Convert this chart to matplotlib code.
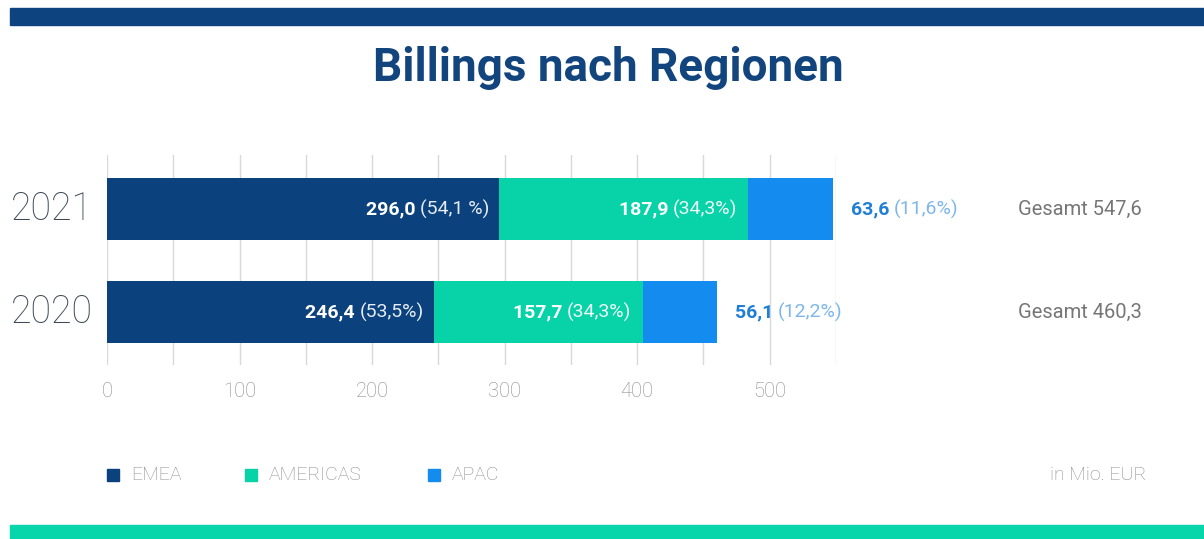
import matplotlib
matplotlib.use("Agg")
import matplotlib.pyplot as plt
from matplotlib.patches import Rectangle

plt.rcParams['font.family'] = ['Roboto', 'DejaVu Sans']

years = ["2021", "2020"]
regions = ["EMEA", "AMERICAS", "APAC"]
emea = [296.0, 246.4]
americas = [187.9, 157.7]
apac = [63.6, 56.1]
totals = [547.6, 460.3]
emea_lbl = ["296,0", "246,4"]
emea_pct = ["(54,1 %)", "(53,5%)"]
amer_lbl = ["187,9", "157,7"]
amer_pct = ["(34,3%)", "(34,3%)"]
apac_lbl = ["63,6", "56,1"]
apac_pct = ["(11,6%)", "(12,2%)"]
total_lbl = ["Gesamt 547,6", "Gesamt 460,3"]
xticks = [0, 100, 200, 300, 400, 500]

colors = ["#0b417c", "#08d3a8", "#148cef"]
navy = "#0d4480"
teal = "#06d6aa"

W, H = 1204, 539
fig = plt.figure(figsize=(W / 100, H / 100), dpi=100)
fig.patch.set_facecolor("white")

def fx(px):
    return px / W

def fy(py):
    return 1 - py / H

# decorative bars
fig.patches.append(Rectangle((fx(10), fy(25)), 1, (25 - 8) / H, transform=fig.transFigure,
                             color=navy, zorder=0))
fig.patches.append(Rectangle((fx(10), 0), 1, (539 - 525) / H, transform=fig.transFigure,
                             color=teal, zorder=0))

fig.text(fx(608), fy(68), "Billings nach Regionen", ha="center", va="center",
         fontsize=33, fontweight="bold", color="#12457d")

ax = fig.add_axes([fx(107), fy(365), fx(836) - fx(107), (365 - 155) / H])
ypos = [1, 0]
h = 0.60
left = [0, 0]
series = [emea, americas, apac]
for vals, c in zip(series, colors):
    ax.barh(ypos, vals, left=left, height=h, color=c, zorder=2)
    left = [l + v for l, v in zip(left, vals)]

ax.set_xlim(0, 550)
ax.set_ylim(-0.515, 1.524)
ax.grid(axis="x", color="#d8d8d8", linewidth=1, zorder=0)
ax.set_xticks(range(0, 551, 50))
ax.set_xticklabels([str(v) if v in xticks else "" for v in range(0, 551, 50)])
ax.tick_params(axis="x", length=0, pad=12, labelsize=14.5, labelcolor="#8a8a8a")
for lab in ax.get_xticklabels():
    lab.set_fontweight("light")
ax.set_yticks([])
for s in ax.spines.values():
    s.set_visible(False)

FS = 14
for i, y in enumerate(ypos):
    # year label
    ax.text(-0.132, y, years[i], transform=ax.get_yaxis_transform(), ha="left", va="center",
            fontsize=27, color="#3f4956", fontweight="light")
    # EMEA
    end = emea[i]
    t = ax.annotate(emea_pct[i], xy=(end, y), xytext=(-7, 0), textcoords="offset points",
                    ha="right", va="center", fontsize=FS, color="#e6ecf5", zorder=3)
    ax.annotate(emea_lbl[i] + " ", xy=(0, 0.5), xycoords=t, ha="right", va="center",
                fontsize=FS, fontweight="bold", color="white", zorder=3)
    # AMERICAS
    end = emea[i] + americas[i]
    t = ax.annotate(amer_pct[i], xy=(end, y), xytext=(-8, 0), textcoords="offset points",
                    ha="right", va="center", fontsize=FS, color="#eefaf6", zorder=3)
    ax.annotate(amer_lbl[i] + " ", xy=(0, 0.5), xycoords=t, ha="right", va="center",
                fontsize=FS, fontweight="bold", color="white", zorder=3)
    # APAC outside
    end = emea[i] + americas[i] + apac[i]
    t = ax.annotate(apac_lbl[i] + " ", xy=(end, y), xytext=(13, 0), textcoords="offset points",
                    ha="left", va="center", fontsize=FS, fontweight="bold", color="#1f7fd6",
                    annotation_clip=False)
    ax.annotate(apac_pct[i], xy=(1, 0.5), xycoords=t, ha="left", va="center",
                fontsize=FS, color="#7fb6ea", annotation_clip=False)
    # total
    fig.text(fx(1018), ax.transData.transform((0, y))[1] / H, total_lbl[i],
             ha="left", va="center", fontsize=14.5, color="#767676")

# legend
leg_x = [107, 245, 428]
for xp, c, name in zip(leg_x, colors, regions):
    fig.patches.append(Rectangle((fx(xp), fy(481)), 12 / W, 12 / H, transform=fig.transFigure,
                                 color=c))
    fig.text(fx(xp + 24), fy(475), name, ha="left", va="center", fontsize=14,
             color="#8c8c8c", fontweight="light")
fig.text(fx(1146), fy(475), "in Mio. EUR", ha="right", va="center", fontsize=14,
         color="#8c8c8c", fontweight="light")

fig.savefig("out.png", dpi=100, facecolor="white")
